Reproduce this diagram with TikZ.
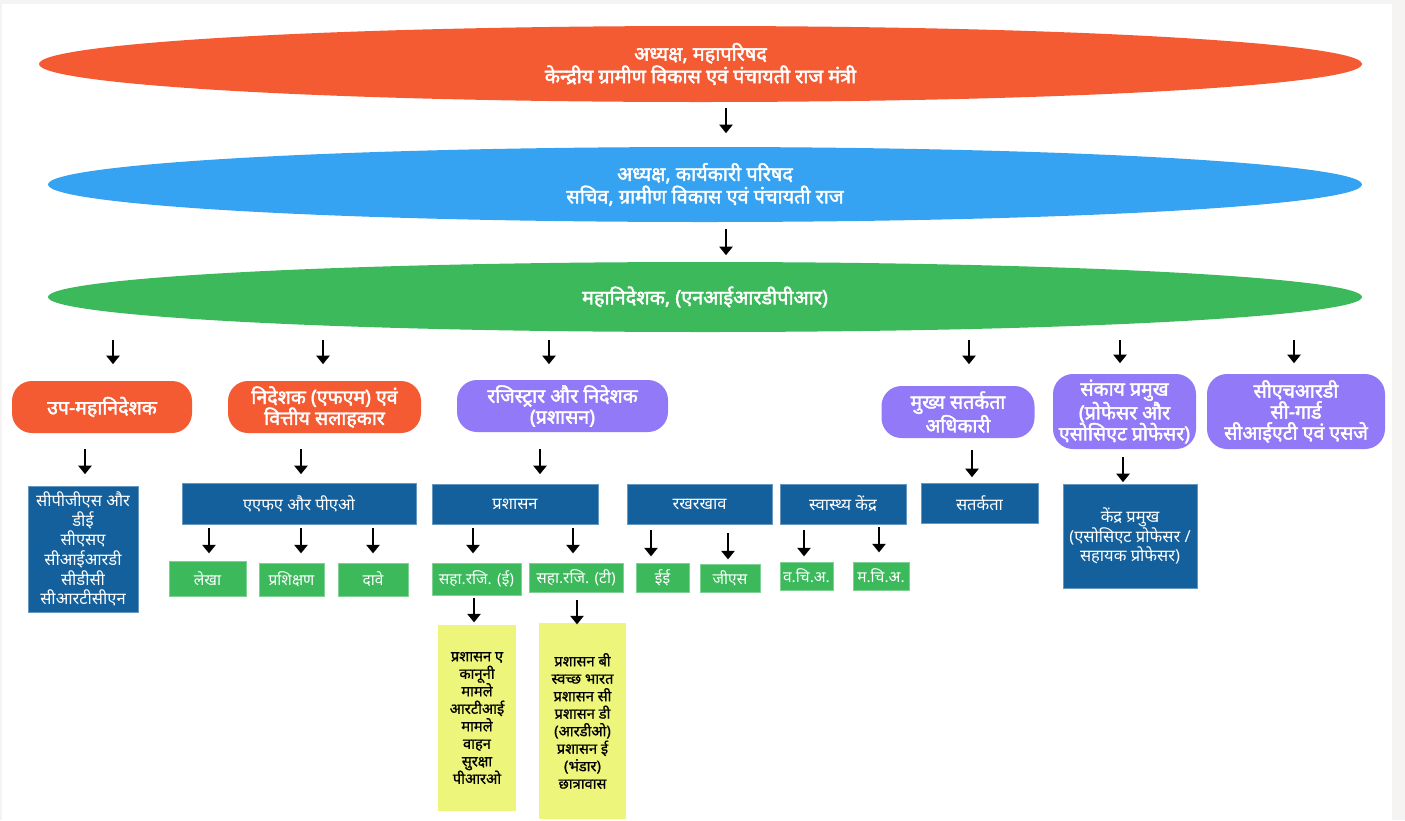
\documentclass[tikz,border=0pt]{standalone}
\usepackage{fontspec}
\setmainfont[Script=Devanagari]{Noto Sans}
\newfontfamily\devbold[Script=Devanagari,FakeBold=2.2]{Noto Sans}
\newfontfamily\devmed[Script=Devanagari,FakeBold=0.8]{Noto Sans}
\usetikzlibrary{shapes.geometric,arrows.meta,calc}
\definecolor{bggray}{RGB}{246,244,242}
\definecolor{corange}{RGB}{245,91,51}
\definecolor{cblue}{RGB}{54,162,242}
\definecolor{cgreen}{RGB}{59,185,91}
\definecolor{cpurple}{RGB}{145,121,247}
\definecolor{dblue}{RGB}{20,96,156}
\definecolor{cyellow}{RGB}{237,245,123}
\begin{document}
\begin{tikzpicture}[x=1pt,y=-1pt,
  sz/.style 2 args={minimum width=#1pt,minimum height=#2pt},
  ell/.style={ellipse,inner sep=0pt,text=white,align=center,font=\devbold\fontsize{19.8}{22.5}\selectfont},
  rbox/.style={rounded corners=20pt,inner sep=0pt,text=white,align=center,font=\devbold\fontsize{19.5}{21}\selectfont},
  bbox/.style={fill=dblue,draw=dblue!65!white,line width=0.8pt,inner sep=0pt,text=white,align=center,font=\fontsize{16.5}{19.6}\selectfont},
  gbox/.style={fill=cgreen,draw=cgreen!65!white,line width=0.8pt,inner sep=0pt,text=white,align=center,font=\fontsize{15.5}{16}\selectfont},
  ybox/.style={fill=cyellow,inner sep=0pt,text=black,align=center,font=\devmed\fontsize{14.7}{17.5}\selectfont},
  arr/.style={-{Triangle[length=8.5pt,width=13pt]},line width=2.8pt,black}]
\useasboundingbox (0,0) rectangle (1405,820);
\fill[bggray] (0,0) rectangle (1405,820);
\fill[white] (2,4) rectangle (1392,820);

% top ellipses
\node[ell,fill=corange,sz={1323}{76}] (e1) at (700.5,64) {अध्यक्ष, महापरिषद\\केन्द्रीय ग्रामीण विकास एवं पंचायती राज मंत्री};
\node[ell,fill=cblue,sz={1314}{75}] (e2) at (705,184.5) {अध्यक्ष, कार्यकारी परिषद\\सचिव, ग्रामीण विकास एवं पंचायती राज};
\node[ell,fill=cgreen,sz={1314}{70}] (e3) at (705,297) {महानिदेशक, (एनआईआरडीपीआर)};

% level 1 boxes
\node[rbox,fill=corange,sz={180}{52}] (b1) at (102,407) {उप-महानिदेशक};
\node[rbox,fill=corange,sz={193}{52}] (b2) at (324.5,407) {निदेशक (एफएम) एवं\\वित्तीय सलाहकार};
\node[rbox,fill=cpurple,sz={211}{52}] (b3) at (562.5,406) {रजिस्ट्रार और निदेशक\\(प्रशासन)};
\node[rbox,fill=cpurple,sz={153}{52}] (b4) at (958,412) {मुख्य सतर्कता\\अधिकारी};
\node[rbox,fill=cpurple,sz={143}{75}] (b5) at (1124.5,411.5) {संकाय प्रमुख\\(प्रोफेसर और\\एसोसिएट प्रोफेसर)};
\node[rbox,fill=cpurple,sz={178}{75}] (b6) at (1296,411.5) {सीएचआरडी\\सी-गार्ड\\सीआईएटी एवं एसजे};

% blue boxes
\node[bbox,sz={110}{126}] (c1) at (83,549) {सीपीजीएस और\\डीई\\सीएसए\\सीआईआरडी\\सीडीसी\\सीआरटीसीएन};
\node[bbox,sz={234}{41}] (c2) at (299,503.5) {एएफए और पीएओ};
\node[bbox,sz={166}{40}] (c3) at (515,504) {प्रशासन};
\node[bbox,sz={145}{40}] (c4) at (699.5,504) {रखरखाव};
\node[bbox,sz={126}{40}] (c5) at (843,504) {स्वास्थ्य केंद्र};
\node[bbox,sz={117}{40}] (c6) at (979.5,503.5) {सतर्कता};
\node[bbox,sz={134}{104}] (c7) at (1130,536) {केंद्र प्रमुख\\(एसोसिएट प्रोफेसर /\\सहायक प्रोफेसर)};

% green boxes
\node[gbox,sz={77}{35}] (g1) at (207.5,578.5) {लेखा};
\node[gbox,sz={65}{33}] (g2) at (291.5,579.5) {प्रशिक्षण};
\node[gbox,sz={70}{33}] (g3) at (373,579.5) {दावे};
\node[gbox,sz={89}{32}] (g4) at (476.5,579) {सहा.रजि. (ई)};
\node[gbox,sz={94}{29}] (g5) at (576,577.5) {सहा.रजि. (टी)};
\node[gbox,sz={53}{29}] (g6) at (662.5,577.5) {ईई};
\node[gbox,sz={60}{28}] (g7) at (730,578) {जीएस};
\node[gbox,sz={53}{28}] (g8) at (806.5,576) {व.चि.अ.};
\node[gbox,sz={56}{28}] (g9) at (881,576) {म.चि.अ.};

% yellow boxes
\node[ybox,sz={78}{186}] (y1) at (477,718) {प्रशासन ए\\कानूनी\\मामले\\आरटीआई\\मामले\\वाहन\\सुरक्षा\\पीआरओ};
\node[ybox,sz={87}{196}] (y2) at (582.5,721) {प्रशासन बी\\स्वच्छ भारत\\प्रशासन सी\\प्रशासन डी\\(आरडीओ)\\प्रशासन ई\\(भंडार)\\छात्रावास};

% arrows between ellipses
\draw[arr] ($(e1.south)+(25.5,6)$) -- ++(0,25);
\draw[arr] ($(e2.south)+(21,7)$) -- ++(0,26);

% arrows ellipse -> level1
\draw[arr] ($(b1.north |- e3.south)+(11,8)$) -- ++(0,24);
\draw[arr] ($(b2.north |- e3.south)+(-1.5,8)$) -- ++(0,24);
\draw[arr] ($(b3.north |- e3.south)+(-13.5,8)$) -- ++(0,24);
\draw[arr] ($(b4.north |- e3.south)+(11,8)$) -- ++(0,24);
\draw[arr] ($(b5.north |- e3.south)+(-4.5,8)$) -- ++(0,23);
\draw[arr] ($(b6.north |- e3.south)+(-2,8)$) -- ++(0,23);

% level1 -> level2
\draw[arr] ($(c1.north |- b1.south)+(2,16)$) -- ++(0,25);
\draw[arr] ($(c2.north |- b2.south)+(2,16)$) -- ++(0,25);
\draw[arr] ($(c3.north |- b3.south)+(25,17)$) -- ++(0,25);
\draw[arr] ($(c6.north |- b4.south)+(-7.5,12)$) -- ++(0,27);
\draw[arr] ($(c7.north |- b5.south)+(-7,8)$) -- ++(0,25);

% level2 -> green
\draw[arr] ($(g1.north |- c2.south)+(1.5,4)$) -- ++(0,25);
\draw[arr] ($(g2.north |- c2.south)+(9.5,4)$) -- ++(0,25);
\draw[arr] ($(g3.north |- c2.south)+(0,4)$) -- ++(0,25);
\draw[arr] ($(g4.north |- c3.south)+(-3.5,4)$) -- ++(0,25);
\draw[arr] ($(g5.north |- c3.south)+(-3,4)$) -- ++(0,25);
\draw[arr] ($(g6.north |- c4.south)+(-11.5,6)$) -- ++(0,26);
\draw[arr] ($(g7.north |- c4.south)+(-2,9)$) -- ++(0,26);
\draw[arr] ($(g8.north |- c5.south)+(-2.5,6)$) -- ++(0,26);
\draw[arr] ($(g9.north |- c5.south)+(-2,3)$) -- ++(0,25);

% green -> yellow
\draw[arr] ($(y1.north |- g4.south)+(-3,3)$) -- ++(0,24);
\draw[arr] ($(y2.north |- g5.south)+(-5.5,8)$) -- ++(0,24);
\end{tikzpicture}
\end{document}
